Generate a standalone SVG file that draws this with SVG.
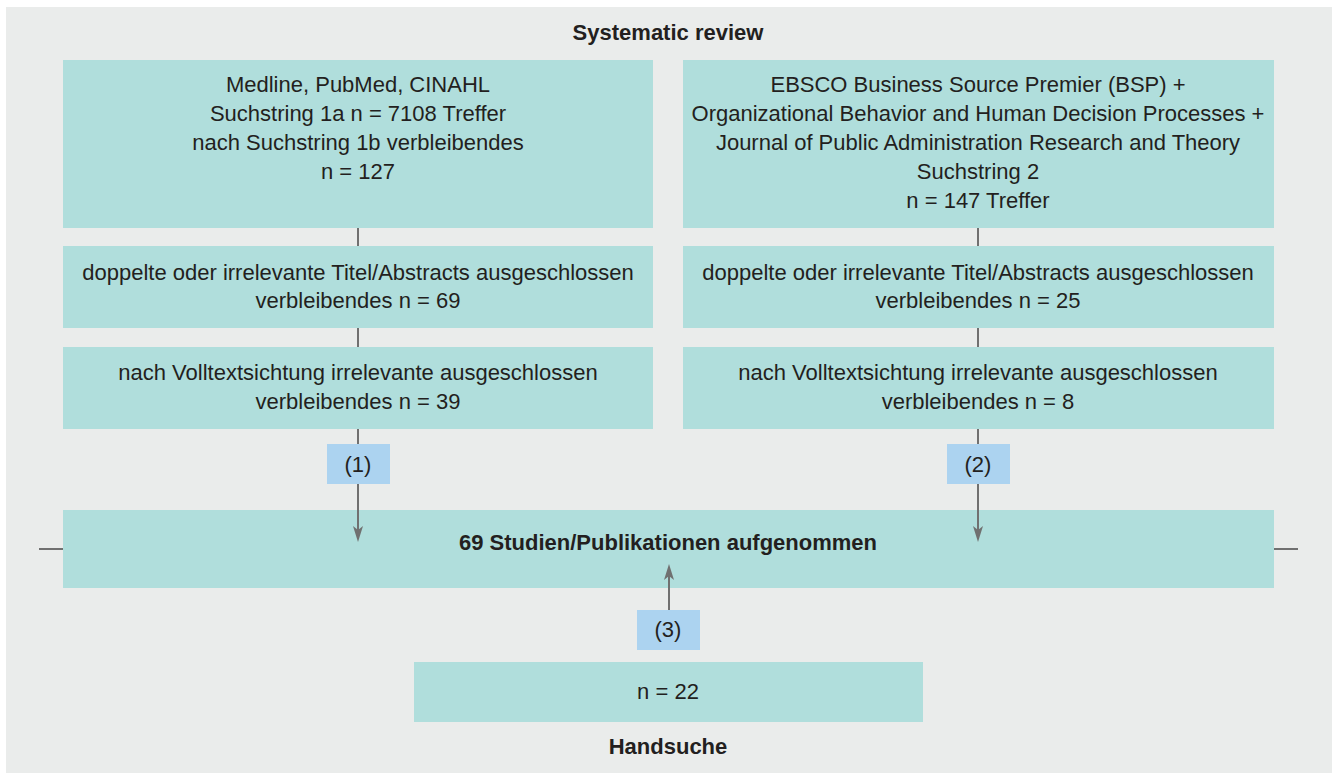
<svg xmlns="http://www.w3.org/2000/svg" width="1332" height="776" viewBox="0 0 1332 776">
<defs>
<style>
.bg{fill:#eaeceb}
.box{fill:#b0dedc}
.lbl{fill:#acd3f0}
.t{font-family:"Liberation Sans Narrow","Liberation Sans",Arial,sans-serif;font-size:22px;fill:#231f20;text-anchor:middle}
.b{font-weight:bold}
.ln{stroke:#707070;stroke-width:2;fill:none}
</style>
<marker id="ah" viewBox="0 0 10 16" refX="5" refY="16" markerWidth="10" markerHeight="16" markerUnits="userSpaceOnUse" orient="auto-start-reverse">
<path d="M0,0 L5,4 L10,0 L5,16 Z" fill="#707070"/>
</marker>
</defs>
<rect class="bg" x="6" y="7" width="1326" height="766"/>
<text class="t b" x="668" y="40">Systematic review</text>
<g id="left1">
<rect class="box" x="63" y="60" width="590" height="168"/>
<text class="t" x="358" y="92">Medline, PubMed, CINAHL</text>
<text class="t" x="358" y="121">Suchstring 1a n = 7108 Treffer</text>
<text class="t" x="358" y="150">nach Suchstring 1b verbleibendes</text>
<text class="t" x="358" y="179">n = 127</text>
</g>
<g id="right1">
<rect class="box" x="683" y="60" width="591" height="168"/>
<text class="t" x="978" y="92">EBSCO Business Source Premier (BSP) +</text>
<text class="t" x="978" y="121">Organizational Behavior and Human Decision Processes +</text>
<text class="t" x="978" y="150">Journal of Public Administration Research and Theory</text>
<text class="t" x="978" y="179">Suchstring 2</text>
<text class="t" x="978" y="208">n = 147 Treffer</text>
</g>
<g id="left2">
<rect class="box" x="63" y="246" width="590" height="82"/>
<text class="t" x="358" y="280">doppelte oder irrelevante Titel/Abstracts ausgeschlossen</text>
<text class="t" x="358" y="308">verbleibendes n = 69</text>
</g>
<g id="right2">
<rect class="box" x="683" y="246" width="591" height="82"/>
<text class="t" x="978" y="280">doppelte oder irrelevante Titel/Abstracts ausgeschlossen</text>
<text class="t" x="978" y="308">verbleibendes n = 25</text>
</g>
<g id="left3">
<rect class="box" x="63" y="347" width="590" height="82"/>
<text class="t" x="358" y="380">nach Volltextsichtung irrelevante ausgeschlossen</text>
<text class="t" x="358" y="409">verbleibendes n = 39</text>
</g>
<g id="right3">
<rect class="box" x="683" y="347" width="591" height="82"/>
<text class="t" x="978" y="380">nach Volltextsichtung irrelevante ausgeschlossen</text>
<text class="t" x="978" y="409">verbleibendes n = 8</text>
</g>
<g id="label1">
<rect class="lbl" x="327" y="444" width="63" height="40"/>
<text class="t" x="358" y="472">(1)</text>
</g>
<g id="label2">
<rect class="lbl" x="947" y="444" width="63" height="40"/>
<text class="t" x="978" y="472">(2)</text>
</g>
<g id="result">
<rect class="box" x="63" y="510" width="1211" height="78"/>
<text class="t b" x="668" y="550">69 Studien/Publikationen aufgenommen</text>
</g>
<g id="label3">
<rect class="lbl" x="637" y="610" width="63" height="40"/>
<text class="t" x="668" y="637">(3)</text>
</g>
<g id="hand">
<rect class="box" x="414" y="662" width="509" height="60"/>
<text class="t" x="668" y="699">n = 22</text>
<text class="t b" x="668" y="754">Handsuche</text>
</g>
<g id="connectors">
<line class="ln" x1="358" y1="228" x2="358" y2="246"/>
<line class="ln" x1="358" y1="328" x2="358" y2="347"/>
<line class="ln" x1="978" y1="228" x2="978" y2="246"/>
<line class="ln" x1="978" y1="328" x2="978" y2="347"/>
<line class="ln" x1="358" y1="429" x2="358" y2="444"/>
<line class="ln" x1="358" y1="484" x2="358" y2="530" />
<path d="M353,526 L358,530 L363,526 L358,542 Z" fill="#707070"/>
<line class="ln" x1="978" y1="429" x2="978" y2="444"/>
<line class="ln" x1="978" y1="484" x2="978" y2="530"/>
<path d="M973,526 L978,530 L983,526 L978,542 Z" fill="#707070"/>
<line class="ln" x1="669" y1="610" x2="669" y2="576"/>
<path d="M664,580 L669,576 L674,580 L669,564 Z" fill="#707070"/>
<line class="ln" x1="39" y1="549" x2="63" y2="549"/>
<line class="ln" x1="1274" y1="549" x2="1298" y2="549"/>
</g>
</svg>
